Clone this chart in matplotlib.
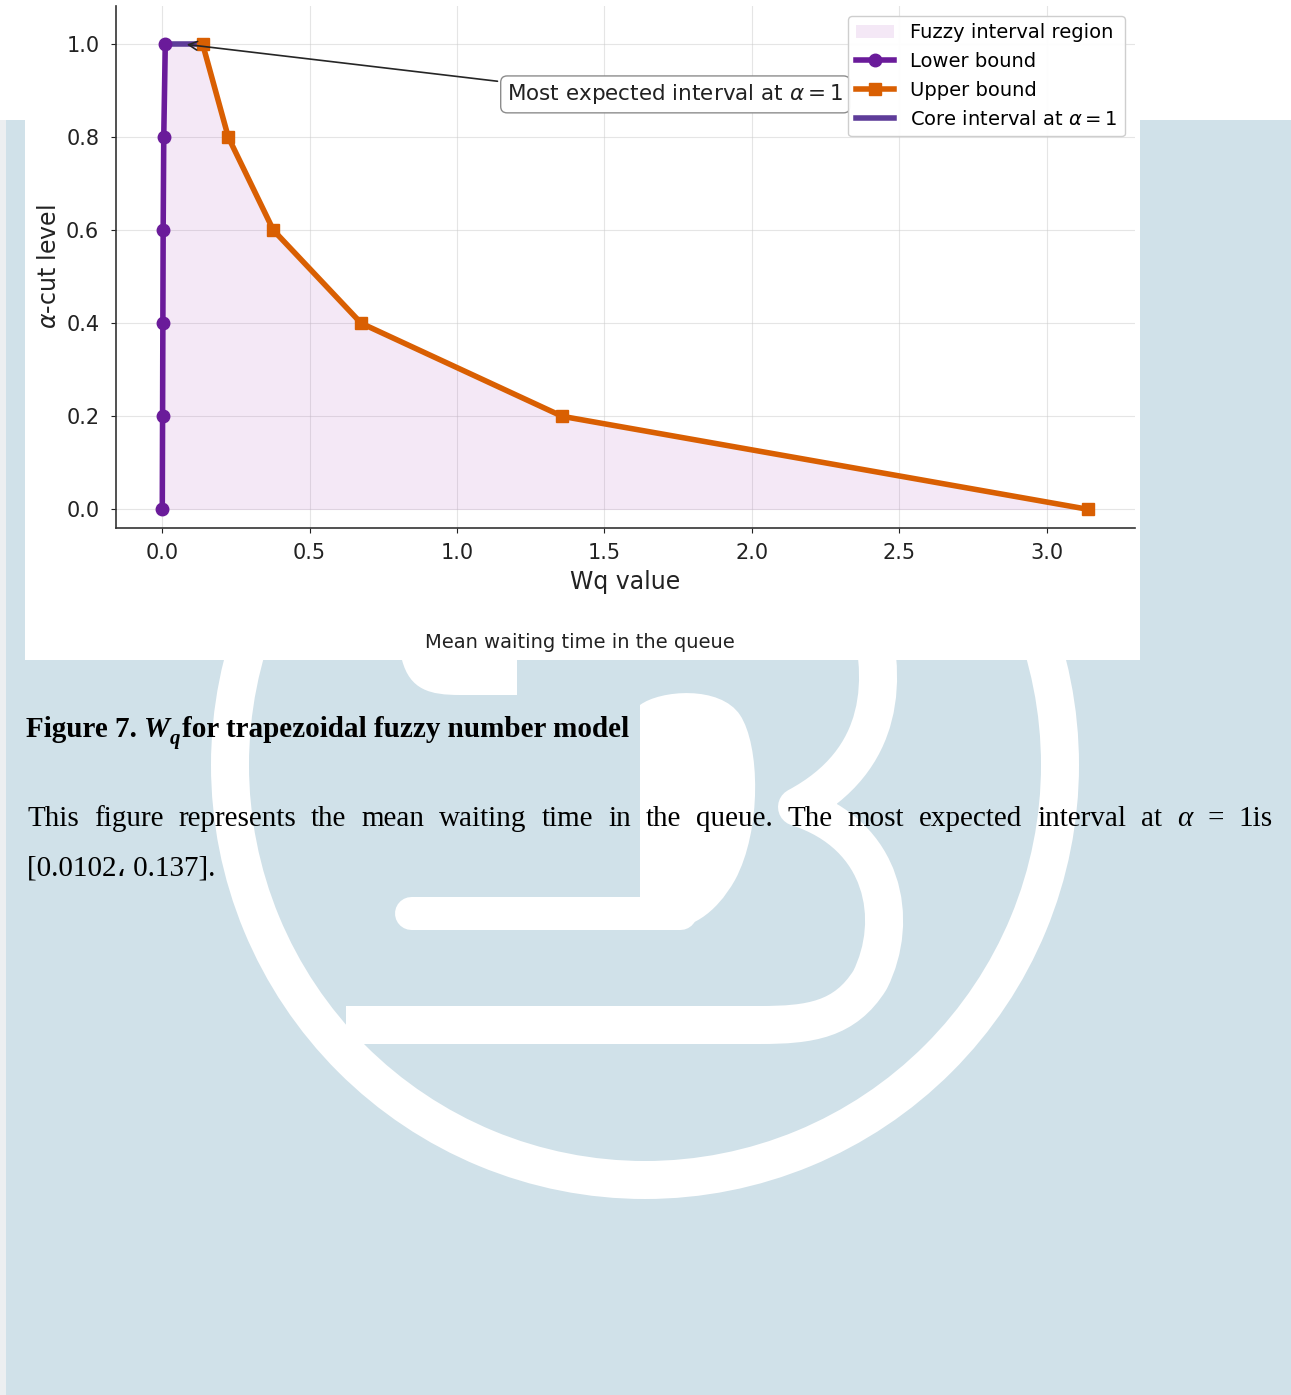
import matplotlib
matplotlib.use('Agg')
import matplotlib.pyplot as plt
from matplotlib.patches import Rectangle, Wedge, PathPatch
from matplotlib.path import Path

# alpha-cut levels and the Wq interval bounds at each level
alpha = [0.0, 0.2, 0.4, 0.6, 0.8, 1.0]
wq_lower = [0.0, 0.001, 0.002, 0.003, 0.005, 0.0102]
wq_upper = [3.142, 1.357, 0.675, 0.377, 0.224, 0.137]
x_ticks = [0.0, 0.5, 1.0, 1.5, 2.0, 2.5, 3.0]
y_ticks = [0.0, 0.2, 0.4, 0.6, 0.8, 1.0]

W, H = 1291, 1395
BLUE = '#d0e1e9'
PURPLE = '#6a1b9a'
ORANGE = '#d95f02'
CORE = '#5e3c99'

fig = plt.figure(figsize=(W / 100, H / 100), dpi=100)
fig.patch.set_facecolor('white')

# page layer in pixel units
page = fig.add_axes([0, 0, 1, 1])
page.set_xlim(0, W)
page.set_ylim(H, 0)
page.axis('off')
page.add_patch(Rectangle((0, 120), 6, H - 120, color='#eceff1', lw=0))
page.add_patch(Rectangle((6, 120), W - 6, H - 120, color=BLUE, lw=0))

# journal logo behind the text
page.add_patch(Wedge((645, 765), 434, 0, 360, width=38, color='white', lw=0))
M, C, L = Path.MOVETO, Path.CURVE4, Path.LINETO
outer = Path([(865, 600), (890, 680), (885, 760), (797, 807),
              (885, 835), (900, 920), (870, 980),
              (845, 1020), (810, 1025), (760, 1025),
              (346, 1025)],
             [M, C, C, C, C, C, C, C, C, C, L])
page.add_patch(PathPatch(outer, fc='none', ec='white', lw=38 * 0.72,
                         capstyle='butt', joinstyle='round'))
blob = Path([(640, 705), (660, 690), (720, 685), (740, 715),
             (760, 745), (762, 830), (735, 880),
             (715, 915), (690, 930), (660, 930),
             (640, 930), (640, 705)],
            [M, C, C, C, C, C, C, C, C, C, L, Path.CLOSEPOLY])
page.add_patch(PathPatch(blob, fc='white', ec='none'))
page.plot([411, 680], [913, 913], color='white', lw=33 * 0.72,
          solid_capstyle='round')
corner = Path([(395, 600), (402, 660), (410, 690), (430, 695), (460, 695),
               (517, 695), (517, 600), (395, 600)],
              [M, L, C, C, C, L, L, Path.CLOSEPOLY])
page.add_patch(PathPatch(corner, fc='white', ec='none'))

# white panel holding the chart
page.add_patch(Rectangle((25, 0), 1115, 660, color='white', lw=0, zorder=5))
page.text(580, 643, 'Mean waiting time in the queue', fontsize=14,
          ha='center', va='center', color='#222222', zorder=6)

# chart
ax = fig.add_axes([116 / W, 1 - 528 / H, (1135 - 116) / W, (528 - 6) / H])
ax.set_facecolor('white')
ax.fill_betweenx(alpha, wq_lower, wq_upper, color='#9c27b0', alpha=0.1,
                 lw=0, label='Fuzzy interval region')
ax.plot(wq_lower, alpha, '-o', color=PURPLE, lw=4, ms=9, zorder=3,
        label='Lower bound')
ax.plot(wq_upper, alpha, '-s', color=ORANGE, lw=4, ms=8, zorder=3,
        label='Upper bound')
ax.plot([wq_lower[-1], wq_upper[-1]], [alpha[-1], alpha[-1]], color=CORE,
        lw=4, zorder=2, label=r'Core interval at $\alpha = 1$')

mid = (wq_lower[-1] + wq_upper[-1]) / 2
ax.annotate(r'Most expected interval at $\alpha = 1$', xy=(mid, alpha[-1]),
            xytext=(1.17, 0.892), fontsize=15.5, ha='left', va='center',
            color='#222222',
            bbox=dict(boxstyle='round,pad=0.3', fc='white', ec='0.55', lw=1),
            arrowprops=dict(arrowstyle='->', color='0.15', lw=1.2,
                            relpos=(0.0, 1.0)))

ax.set_xlim(-0.157, 3.30)
ax.set_ylim(-0.04, 1.082)
ax.set_xticks(x_ticks)
ax.set_yticks(y_ticks)
ax.set_xticklabels([f'{v:.1f}' for v in x_ticks])
ax.set_yticklabels([f'{v:.1f}' for v in y_ticks])
ax.tick_params(labelsize=15, colors='#222222')
ax.tick_params(axis='x', pad=7)
ax.tick_params(axis='y', pad=8.5)
ax.grid(True, color='#cccccc', alpha=0.5, lw=0.8)
ax.set_axisbelow(True)
for s in ['top', 'right']:
    ax.spines[s].set_visible(False)
for s in ['left', 'bottom']:
    ax.spines[s].set_color('#333333')
    ax.spines[s].set_linewidth(1.2)
ax.set_xlabel('Wq value', fontsize=17, color='#222222', labelpad=5)
ax.set_ylabel(r'$\alpha$-cut level', fontsize=17, color='#222222')
leg = ax.legend(loc='upper right', fontsize=14, framealpha=0.95)
leg.set_zorder(10)

# caption and body text under the chart
fig.canvas.draw()
rend = fig.canvas.get_renderer()


def put(x, y, s, **kw):
    t = page.text(x, y, s, va='baseline', color='black', **kw)
    return x + t.get_window_extent(renderer=rend).width


serif = 'Liberation Serif'
x = put(26, 737, 'Figure 7. ', family=serif, weight='bold', fontsize=21)
x = put(x, 737, 'W', family=serif, weight='bold', style='italic', fontsize=21)
x = put(x, 744, 'q', family=serif, weight='bold', style='italic', fontsize=15)
put(x + 2, 737, 'for trapezoidal fuzzy number model', family=serif,
    weight='bold', fontsize=21)

words = ['This', 'figure', 'represents', 'the', 'mean', 'waiting', 'time',
         'in', 'the', 'queue.', 'The', 'most', 'expected', 'interval', 'at',
         'α', '=', '1is']
arts = []
for w in words:
    st = 'italic' if w == 'α' else 'normal'
    arts.append(page.text(0, 826, w, family=serif, style=st, fontsize=21,
                          va='baseline', color='black'))
widths = [a.get_window_extent(renderer=rend).width for a in arts]
gap = (1273 - 27 - sum(widths)) / (len(words) - 1)
x = 27
for a, w in zip(arts, widths):
    a.set_x(x)
    x += w + gap
page.text(27, 876, '[0.0102\u060c 0.137].', family=[serif, 'DejaVu Sans'],
          fontsize=21, va='baseline', color='black')

fig.savefig('out.png', dpi=100)
